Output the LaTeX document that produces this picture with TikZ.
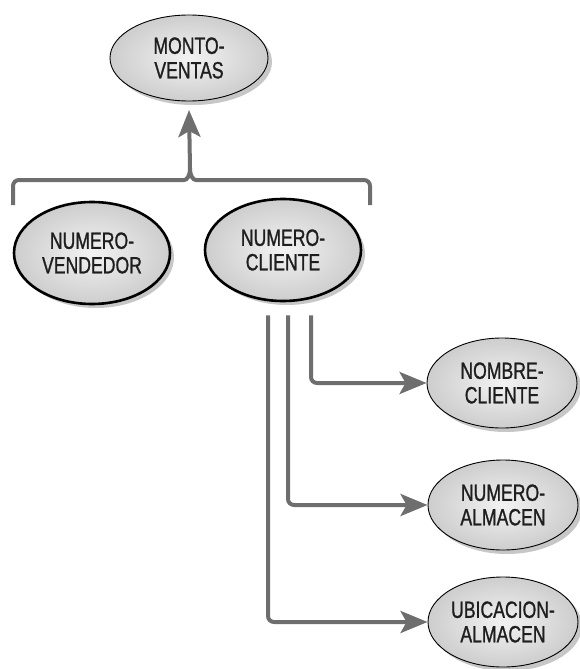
\documentclass[tikz,border=0pt]{standalone}
\usepackage{fontspec}
\setmainfont[FakeStretch=0.75,FakeBold=1]{Liberation Sans}
\usetikzlibrary{arrows.meta,shadows,calc,shapes.geometric}
\pgfdeclareradialshading{ellshade}{\pgfpoint{0bp}{0bp}}{color(0bp)=(gray!10); color(50bp)=(gray!68); color(100bp)=(gray!68)}
\definecolor{linegray}{HTML}{6E6E6E}
\definecolor{txt}{HTML}{1E1E1E}
\tikzset{
  attr/.style={ellipse, draw=black, line width=0.9pt, shading=ellshade,
    minimum width=154pt, minimum height=88pt, inner sep=0pt, align=center,
    text=txt, font=\fontsize{23.5}{24.5}\selectfont,
    drop shadow={shadow xshift=4pt, shadow yshift=-4pt, opacity=0.22, fill=black}},
  keyattr/.style={attr, line width=2.6pt, minimum width=156pt, minimum height=102pt},
  conn/.style={draw=linegray, line width=4pt, rounded corners=6pt},
  tip/.style={-{Stealth[length=27pt,width=22pt,inset=6pt]}},
}
\begin{document}
\begin{tikzpicture}[x=1pt,y=-1pt]
\useasboundingbox (0,0) rectangle (579,669);
\node[attr, minimum width=158pt, minimum height=86pt] (mv) at (189,58) {MONTO-\\VENTAS};
\node[keyattr] (nv) at (92,253) {NUMERO-\\VENDEDOR};
\node[keyattr] (nc) at (283,250) {NUMERO-\\CLIENTE};
\node[attr, minimum width=150pt, minimum height=90pt] (nom) at (502,383) {NOMBRE-\\CLIENTE};
\node[attr, minimum width=150pt, minimum height=90pt] (nal) at (503,505) {NUMERO-\\ALMACEN};
\node[attr, minimum width=150pt, minimum height=90pt] (ual) at (503,622) {UBICACION-\\ALMACEN};
% bracket
\coordinate (bl) at (13,205);
\coordinate (br) at (370,205);
\coordinate (cusp) at (190,168);
\draw[conn] (bl) -- (13,180) -- (178,180) [sharp corners] .. controls (187,180) and (190,176) .. (cusp);
\draw[conn] (br) -- (370,180) -- (202,180) [sharp corners] .. controls (193,180) and (190,176) .. (cusp);
\draw[conn, tip] (cusp) -- (mv.south |- 0,110);
% connectors from NUMERO-CLIENTE
\coordinate (s1) at ($(nc.south)+(28,13)$);
\coordinate (s2) at ($(nc.south)+(5,13)$);
\coordinate (s3) at ($(nc.south)+(-15,13)$);
\draw[conn, tip] (s1) |- (nom.west);
\draw[conn, tip] (s2) |- (nal.west);
\draw[conn, tip] (s3) |- (ual.west);
\end{tikzpicture}
\end{document}
